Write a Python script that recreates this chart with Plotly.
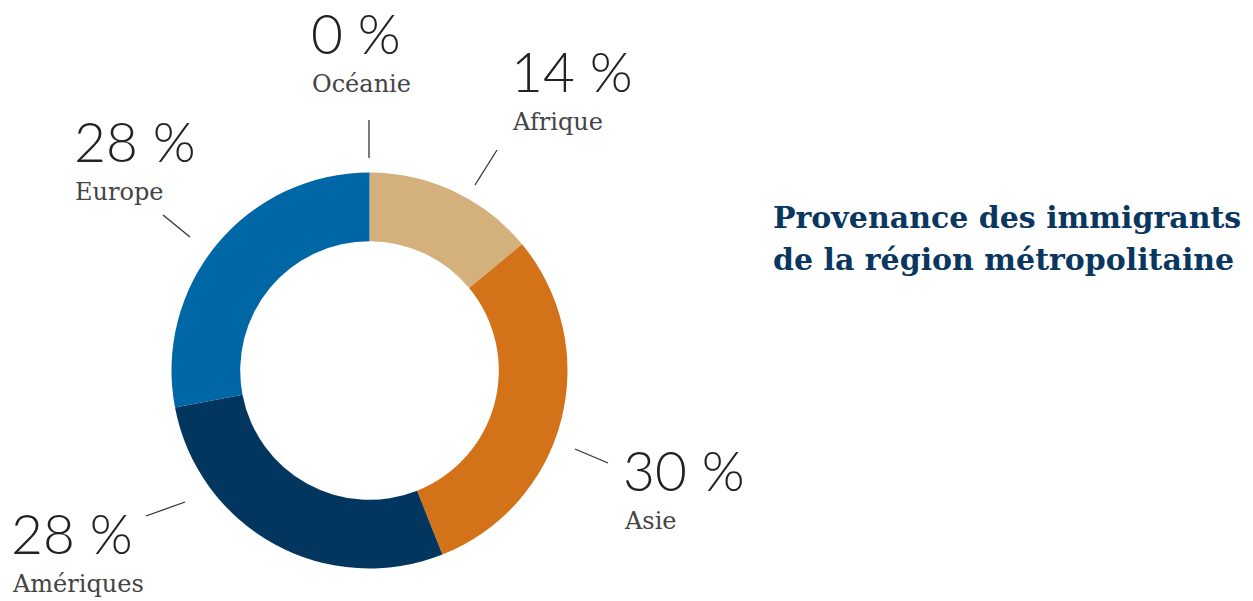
import plotly.graph_objects as go

W, H = 1253, 601

regions = ["Afrique", "Asie", "Amériques", "Europe", "Océanie"]
shares = [14, 30, 28, 28, 0]
colors = ["#D4B07C", "#D4721A", "#02365F", "#0067A6", "#7FA7C9"]
pct_labels = ["14 %", "30 %", "28 %", "28 %", "0 %"]
title_lines = ["Provenance des immigrants", "de la région métropolitaine"]

# layout positions (pixels) for the outside labels: left x, number baseline y
label_pos = {
    "Afrique": (510, 93),
    "Asie": (622, 492),
    "Amériques": (10, 555),
    "Europe": (73, 163),
    "Océanie": (310, 55),
}
leaders = {
    "Afrique": ((497, 150), (475, 185)),
    "Asie": ((575, 449), (608, 463)),
    "Amériques": ((146, 516), (185, 502)),
    "Europe": ((163, 215), (190, 237)),
    "Océanie": ((369, 120), (369, 158)),
}

cx, cy, r = 369.5, 370.5, 198

fig = go.Figure()
fig.add_trace(go.Pie(
    labels=regions, values=shares, sort=False, direction="clockwise", rotation=0,
    hole=0.653, marker=dict(colors=colors, line=dict(width=0)),
    textinfo="none", hoverinfo="label+percent", showlegend=False,
    domain=dict(x=[(cx - r) / W, (cx + r) / W], y=[1 - (cy + r) / H, 1 - (cy - r) / H]),
))

annotations = []
shapes = []
for name, pct in zip(regions, pct_labels):
    x, yb = label_pos[name]
    annotations.append(dict(
        x=x - 1, y=yb + 13, xref="x", yref="y", xanchor="left", yanchor="bottom",
        text=pct, showarrow=False,
        font=dict(family="Lato", size=55, color="#222222", weight=300),
    ))
    annotations.append(dict(
        x=x, y=yb + 45, xref="x", yref="y", xanchor="left", yanchor="bottom",
        text=name, showarrow=False,
        font=dict(family="DejaVu Serif", size=24, color="#444444"),
    ))
    (x0, y0), (x1, y1) = leaders[name]
    shapes.append(dict(type="line", xref="x", yref="y", x0=x0, y0=y0, x1=x1, y1=y1,
                       line=dict(color="#333333", width=1.3)))

for i, line in enumerate(title_lines):
    annotations.append(dict(
        x=771, y=217 + 42 * i, xref="x", yref="y", xanchor="left", yanchor="middle", align="left",
        text="<b>" + line + "</b>", showarrow=False,
        font=dict(family="DejaVu Serif", size=30, color="#0A3760"),
    ))

fig.update_layout(
    width=W, height=H, margin=dict(l=0, r=0, t=0, b=0),
    paper_bgcolor="white", plot_bgcolor="rgba(0,0,0,0)",
    xaxis=dict(range=[0, W], visible=False, fixedrange=True),
    yaxis=dict(range=[H, 0], visible=False, fixedrange=True),
    annotations=annotations, shapes=shapes,
)

fig.write_html("out.html", config={"displayModeBar": False},
               post_script="document.body.style.margin='0';document.body.style.overflow='hidden';")
